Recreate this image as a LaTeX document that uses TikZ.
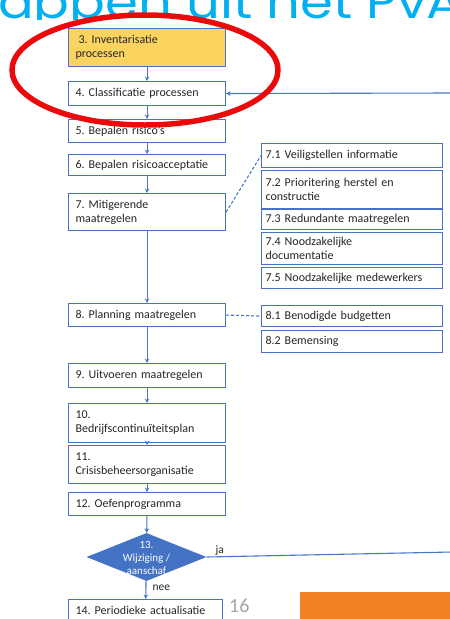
\documentclass[tikz,border=0pt]{standalone}
\usepackage{fontspec}
\setmainfont{Carlito}
\newfontfamily\titlefont{Poppins}
\usetikzlibrary{arrows.meta,shapes.geometric}
\definecolor{boxblue}{RGB}{72,114,196}
\definecolor{lineblue}{RGB}{72,118,200}
\definecolor{diafill}{RGB}{68,114,196}
\definecolor{hlyellow}{RGB}{250,212,95}
\definecolor{titlecyan}{RGB}{0,176,240}
\definecolor{slideorange}{RGB}{240,128,34}
\definecolor{numgray}{RGB}{165,165,165}
\definecolor{ringred}{RGB}{235,10,10}
\frenchspacing
\begin{document}
\begin{tikzpicture}[x=1pt,y=-1pt,
  box/.style={draw=boxblue, line width=1.1pt, fill=white, inner ysep=1pt, align=left, anchor=north west, font=\fontsize{12}{14}\selectfont, text=black!85},
  mainbox/.style={box, inner xsep=7pt, text width=143pt, minimum width=157pt},
  subbox/.style={box, inner xsep=4pt, text width=173pt, minimum width=181pt},
  flow/.style={draw=lineblue, line width=1.1pt, -{Stealth[length=4.5pt,width=4.5pt]}},
  link/.style={draw=lineblue, line width=1.1pt},
  dlink/.style={draw=lineblue, line width=1.1pt, dash pattern=on 3pt off 2pt},
  lbl/.style={font=\fontsize{11.5}{13}\selectfont, text=black!85, inner sep=1pt}]
\useasboundingbox (0,0) rectangle (450,619);
\clip (0,0) rectangle (450,619);

% title (lower part hidden behind the diagram)
\begin{scope}
\clip (0,0) rectangle (450,19.5);
\node[anchor=base west, font=\titlefont\fontsize{46}{46}\selectfont, text=titlecyan, inner sep=0, xscale=1.15, transform shape] (title) at (-2,18) {appen uit het PvA};
\end{scope}

% main column
\node[mainbox, fill=hlyellow, minimum height=38pt] (b3) at (68,28) {\hspace*{3pt}3. Inventarisatie\\processen};
\node[mainbox, minimum height=24pt] (b4) at (68,81) {4. Classificatie processen};
\node[mainbox, minimum height=23pt] (b5) at (68,119) {5. Bepalen risico's};
\node[mainbox, minimum height=21pt] (b6) at (68,154) {6. Bepalen risicoacceptatie};
\node[mainbox, minimum height=37pt] (b7) at (68,193) {7. Mitigerende\\maatregelen};
\node[mainbox, minimum height=23pt] (b8) at (68,303) {8. Planning maatregelen};
\node[mainbox, minimum height=24pt] (b9) at (68,363) {9. Uitvoeren maatregelen};
\node[mainbox, minimum height=39pt] (b10) at (68,403) {10.\\Bedrijfscontinuïteitsplan};
\node[mainbox, minimum height=38pt] (b11) at (68,445) {11.\\Crisisbeheersorganisatie};
\node[mainbox, minimum height=23pt] (b12) at (68,492) {12. Oefenprogramma};
\node[diamond, fill=diafill, inner sep=0, minimum width=120pt, minimum height=48pt] (d13) at (146.5,557) {};
\node[align=center, text=white, font=\fontsize{11}{13}\selectfont, inner sep=0] (t13) at (146.5,558) {13.\\Wijziging /\\aanschaf};
\node[box, inner xsep=7pt, text width=140pt, minimum width=154pt, minimum height=22pt] (b14) at (68,599) {14. Periodieke actualisatie};

% sub boxes
\node[subbox, minimum height=24pt] (s71) at (261,143) {7.1 Veiligstellen informatie};
\node[subbox, minimum height=38pt] (s72) at (261,170) {7.2 Prioritering herstel en\\constructie};
\node[subbox, minimum height=20pt] (s73) at (261,209) {7.3 Redundante maatregelen};
\node[subbox, minimum height=32pt] (s74) at (261,232) {7.4 Noodzakelijke\\documentatie};
\node[subbox, minimum height=21pt] (s75) at (261,267) {7.5 Noodzakelijke medewerkers};
\node[subbox, minimum height=21pt] (s81) at (261,305) {8.1 Benodigde budgetten};
\node[subbox, minimum height=22pt] (s82) at (261,330) {8.2 Bemensing};

% flow arrows
\draw[flow] (b3) -- (b4);
\draw[flow] (b4) -- (b5);
\draw[flow] (b5) -- (b6);
\draw[flow] (b6) -- (b7);
\draw[flow] (b7) -- (b8);
\draw[flow] (b8) -- (b9);
\draw[flow] (b9) -- (b10);
\draw[flow] (b10) -- (b11);
\draw[flow] (b11) -- (b12);
\draw[flow] (b12) -- (d13);
\draw[flow] (d13) -- node[lbl, anchor=west, pos=0.35, xshift=5pt] (nee) {nee} (b14);

% dashed links
\draw[dlink] (b7.east) -- (s71.west);
\draw[dlink] (b8.east) -- (s81.west);

% loop back
\coordinate (fbR) at (452,93);
\draw[flow] (fbR) -- (b4.east);
\coordinate (jaR) at (452,552);
\draw[link] (d13.east) -- node[lbl, anchor=south west, pos=0.03] (ja) {ja} (jaR);

% page number and orange bar
\node[anchor=base west, font=\fontsize{20}{20}\selectfont, text=numgray, inner sep=0] (pg) at (229,612) {16};
\fill[slideorange] (300,592) rectangle (452,621);

% red ring
\draw[ringred, line width=5.5pt] (145,70) ellipse [x radius=133, y radius=55];
\end{tikzpicture}
\end{document}
